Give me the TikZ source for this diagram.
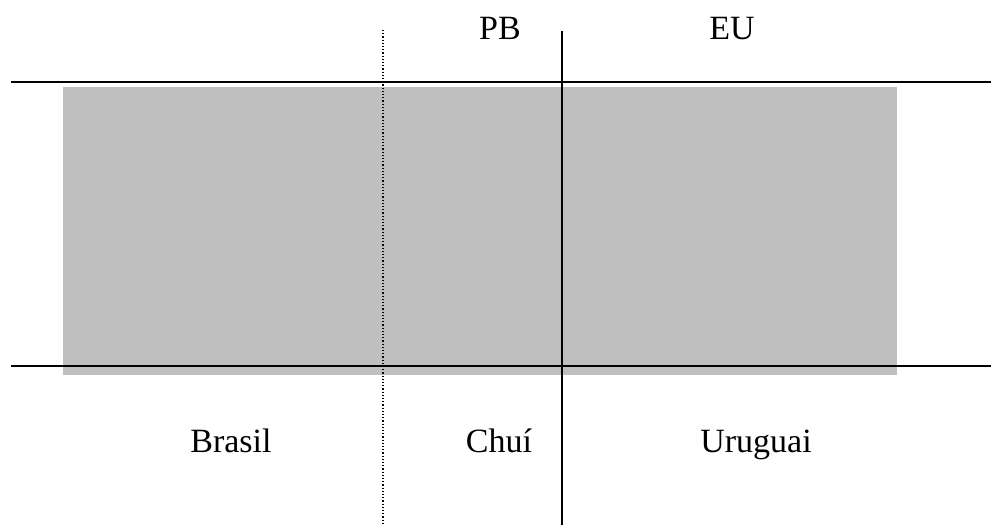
\documentclass[tikz,border=0pt]{standalone}
\usepackage{fontspec}
\setmainfont{Liberation Serif}
\begin{document}
\begin{tikzpicture}[x=1pt,y=-1pt,
  label/.style={anchor=base,inner sep=0pt,font=\fontsize{34}{40}\selectfont},
  rule/.style={line width=2pt,black},
  border/.style={line width=1.2pt,black,dotted}]
\useasboundingbox (0,0) rectangle (992,525);
% shaded band
\fill[black!25] (63,87) rectangle (897,375);
% horizontal lines
\coordinate (tl) at (11,82);
\coordinate (tr) at (991,82);
\coordinate (bl) at (11,366);
\coordinate (br) at (991,366);
\draw[rule] (tl) -- (tr);
\draw[rule] (bl) -- (br);
% vertical lines
\coordinate (dt) at (383,30);
\coordinate (db) at (383,525);
\coordinate (st) at (562,31);
\coordinate (sb) at (562,525);
\draw[border] (dt) -- (db);
\draw[rule] (st) -- (sb);
% labels
\node[label] (pb) at (500,39) {PB};
\node[label] (eu) at (732,39) {EU};
\node[label] (brasil) at (231,452) {Brasil};
\node[label] (chui) at (499,452) {Chuí};
\node[label] (uruguai) at (756,452) {Uruguai};
\end{tikzpicture}
\end{document}
